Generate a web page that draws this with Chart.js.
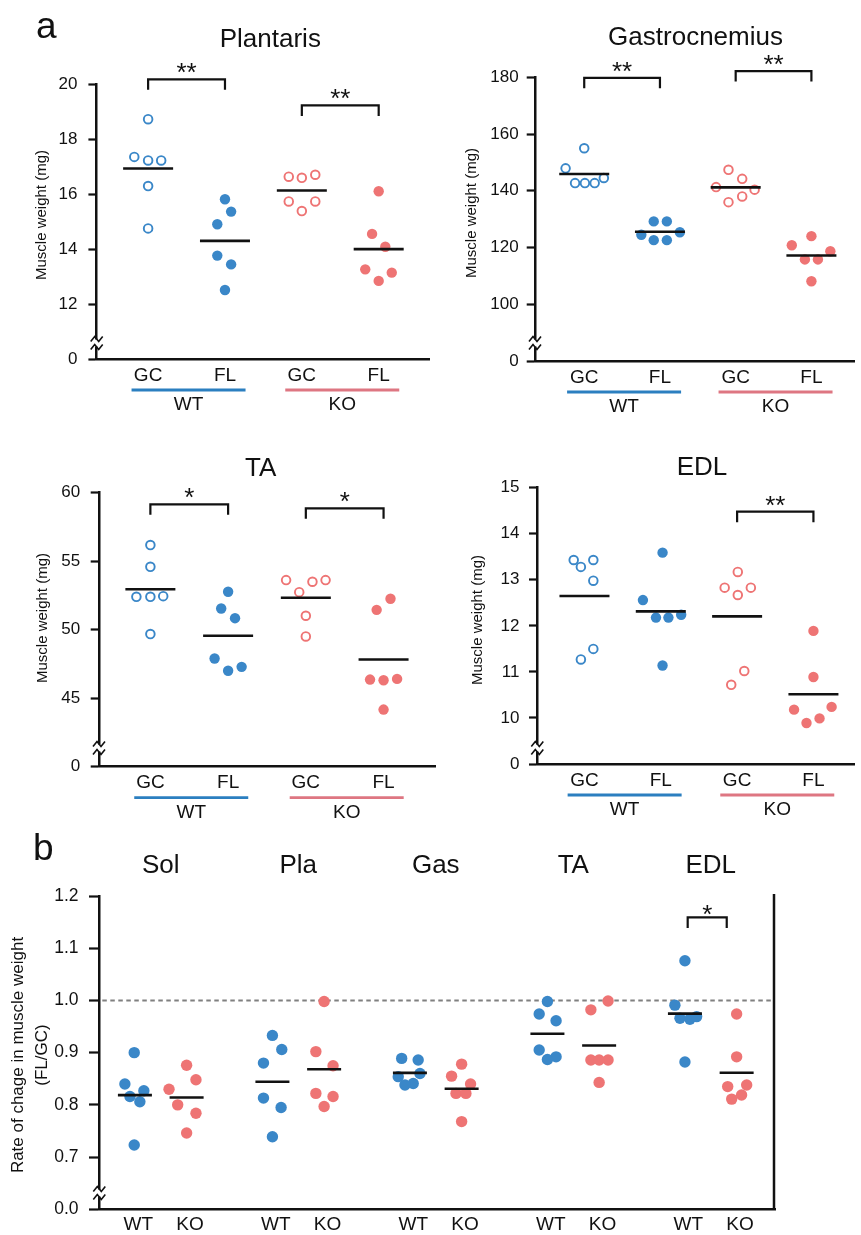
<!DOCTYPE html>
<html>
<head>
<meta charset="utf-8">
<script src="https://cdn.jsdelivr.net/npm/chart.js@4.4.1/dist/chart.umd.min.js"></script>
<style>
html,body{margin:0;padding:0;background:#fff;}
body{position:relative;width:861px;height:1235px;overflow:hidden;}
.pn{position:absolute;}
canvas{display:block;}
</style>
</head>
<body>
<script>
// ================= DATA =================
const catLabels = ['GC', 'FL', 'GC', 'FL'];
const genotypes = ['WT', 'KO'];
const ratioMuscles = ['Sol', 'Pla', 'Gas', 'TA', 'EDL'];

// Plantaris (mg)
const plaGC_WT = [18.72, 17.35, 17.22, 17.22, 16.29, 14.75];
const plaFL_WT = [15.81, 15.36, 14.90, 13.76, 13.44, 12.51];
const plaGC_KO = [16.63, 16.59, 16.70, 15.73, 15.73, 15.38];
const plaFL_KO = [16.10, 14.55, 14.08, 13.26, 13.14, 12.84];
const plaTicks = [12, 14, 16, 18, 20];

// Gastrocnemius (mg)
const gasGC_WT = [155.0, 147.9, 142.7, 142.7, 142.7, 144.5];
const gasFL_WT = [129.2, 129.2, 124.5, 125.4, 122.6, 122.6];
const gasGC_KO = [147.4, 144.2, 141.3, 140.4, 138.0, 136.0];
const gasFL_KO = [124.0, 120.8, 118.7, 115.8, 115.8, 108.1];
const gasTicks = [100, 120, 140, 160, 180];

// TA (mg)
const taGC_WT = [56.18, 54.59, 52.40, 52.40, 52.45, 49.68];
const taFL_WT = [52.77, 51.55, 50.84, 47.90, 47.29, 47.00];
const taGC_KO = [53.62, 53.50, 53.62, 52.74, 51.02, 49.51];
const taFL_KO = [52.26, 51.45, 46.36, 46.31, 46.41, 44.17];
const taTicks = [45, 50, 55, 60];

// EDL (mg)
const edlGC_WT = [13.43, 13.43, 13.28, 12.98, 11.50, 11.27];
const edlFL_WT = [13.59, 12.56, 12.18, 12.18, 12.24, 11.14];
const edlGC_KO = [13.17, 12.83, 12.83, 12.67, 11.02, 10.72];
const edlFL_KO = [11.89, 10.89, 10.18, 10.24, 9.99, 9.89];
const edlTicks = [10, 11, 12, 13, 14, 15];

// b: rate of change FL/GC
const rSolWT = [0.900, 0.840, 0.827, 0.816, 0.806, 0.723];
const rSolKO = [0.876, 0.848, 0.830, 0.800, 0.784, 0.746];
const rPlaWT = [0.933, 0.906, 0.880, 0.813, 0.795, 0.739];
const rPlaKO = [0.998, 0.902, 0.875, 0.822, 0.816, 0.797];
const rGasWT = [0.889, 0.886, 0.860, 0.854, 0.841, 0.838];
const rGasKO = [0.878, 0.855, 0.840, 0.822, 0.822, 0.768];
const rTaWT  = [0.998, 0.974, 0.961, 0.905, 0.892, 0.887];
const rTaKO  = [0.999, 0.982, 0.886, 0.886, 0.886, 0.843];
const rEdlWT = [1.076, 0.991, 0.966, 0.964, 0.969, 0.882];
const rEdlKO = [0.974, 0.892, 0.835, 0.838, 0.819, 0.811];
const ratioTicks = [0.7, 0.8, 0.9, 1.0, 1.1, 1.2];

// horizontal jitter (in category units)
const plaJit = [[0,-0.18,0,0.17,0,0],[0,0.08,-0.1,-0.1,0.08,0],[-0.17,0,0.175,-0.17,0.175,0],[0,-0.086,0.086,-0.175,0.17,0]];
const gasJit = [[0,-0.246,-0.121,0.009,0.138,0.259],[-0.082,0.091,-0.246,0.263,-0.082,0.091],[-0.095,0.086,-0.259,0.25,0.086,-0.095],[0,-0.259,0.25,-0.086,0.086,0]];
const taJit  = [[0,0,-0.18,0,0.165,0],[0,-0.089,0.089,-0.174,0.174,0],[-0.254,0.085,0.254,-0.085,0,0],[0.089,-0.089,-0.174,0,0.174,0]];
const edlJit = [[-0.141,0.116,-0.047,0.116,0.116,-0.047],[0.023,-0.234,-0.063,0.1,0.267,0.023],[0.009,-0.163,0.18,0.009,0.094,-0.077],[0,0,-0.254,0.238,0.08,-0.091]];
const ratioJit = [
  [-0.005,-0.073,0.065,-0.036,0.036,-0.005],[0,0.068,-0.128,-0.065,0.068,0],
  [0,0.068,-0.065,-0.065,0.063,0],[0,-0.06,0.065,-0.06,0.065,0],
  [-0.06,0.06,0.073,-0.085,0.024,-0.036],[0,-0.073,0.065,-0.041,0.031,0],
  [0,-0.06,0.063,-0.06,0.063,0],[0.065,-0.06,-0.06,0,0.065,0],
  [0,-0.073,-0.036,0.036,0.085,0],[0,0,-0.065,0.073,0.036,-0.036]
];

// significance brackets [from, to, level, mark]
const plaBrackets = [[0, 1, 20.17, '**'], [2, 3, 19.22, '**']];
const gasBrackets = [[0, 1, 179.8, '**'], [2, 3, 182.2, '**']];
const taBrackets  = [[0, 1, 59.15, '*'], [2, 3, 58.86, '*']];
const edlBrackets = [[2, 3, 14.48, '**']];
const ratioBrackets = [[3.832, 4.116, 1.159, '*']];

// ================= DRAWING =================
const FONT = '"Liberation Sans", Arial, Helvetica, sans-serif';
Chart.defaults.font.family = FONT;
Chart.defaults.color = '#111';
const BLUE = '#3a87c8', RED = '#ee7474', BLUE_LINE = '#2b7fc0', RED_LINE = '#de7682', INK = '#111';

function mean(a) { return a.reduce((s, v) => s + v, 0) / a.length; }

function panel(p) {
  const div = document.createElement('div');
  div.className = 'pn';
  div.style.left = p.box.x + 'px'; div.style.top = p.box.y + 'px';
  const cv = document.createElement('canvas');
  cv.width = p.box.w; cv.height = p.box.h;
  cv.style.width = p.box.w + 'px'; cv.style.height = p.box.h + 'px';
  div.appendChild(cv); document.body.appendChild(div);
  const ox = p.box.x, oy = p.box.y;
  const L = p.area.l - ox, T = p.area.t - oy, R = p.area.r - ox, B = p.area.b - oy;
  const XH = p.xAxisH;

  const datasets = p.groups.map(g => ({
    data: g.values.map((v, i) => ({ x: g.pos + g.jitter[i], y: v })),
    showLine: false,
    pointStyle: 'circle',
    pointRadius: g.open ? p.openR : p.dotR,
    pointHoverRadius: g.open ? p.openR : p.dotR,
    pointBorderWidth: g.open ? p.openW : 0,
    pointHoverBorderWidth: g.open ? p.openW : 0,
    pointBorderColor: g.color,
    pointBackgroundColor: g.open ? '#ffffff' : g.color,
    clip: false
  }));

  const overlay = {
    id: 'ov_' + p.id,
    beforeDatasetsDraw(chart) {
      if (p.refLine == null) return;
      const ctx = chart.ctx, ca = chart.chartArea, y = chart.scales.y.getPixelForValue(p.refLine);
      ctx.save();
      ctx.strokeStyle = '#808080'; ctx.lineWidth = 2; ctx.setLineDash([4.5, 3.5]);
      ctx.beginPath(); ctx.moveTo(ca.left + 3, y); ctx.lineTo(ca.right - 2, y); ctx.stroke();
      ctx.restore();
    },
    afterDatasetsDraw(chart) {
      const ctx = chart.ctx, xs = chart.scales.x, ys = chart.scales.y;
      ctx.save();
      ctx.strokeStyle = INK; ctx.lineWidth = 2.6;
      p.groups.forEach(g => {
        const cx = xs.getPixelForValue(g.pos), cy = ys.getPixelForValue(mean(g.values));
        ctx.beginPath(); ctx.moveTo(cx - p.meanHalf, cy); ctx.lineTo(cx + p.meanHalf, cy); ctx.stroke();
      });
      ctx.restore();
    },
    afterDraw(chart) {
      const ctx = chart.ctx, xs = chart.scales.x, ys = chart.scales.y, ca = chart.chartArea;
      ctx.save();
      // right frame line
      if (p.rightTop != null) {
        ctx.strokeStyle = INK; ctx.lineWidth = 2.5;
        ctx.beginPath(); ctx.moveTo(ca.right - 1, p.rightTop - oy); ctx.lineTo(ca.right - 1, ca.bottom); ctx.stroke();
      }
      // axis break
      const bx = ca.left, by = p.breakY - oy;
      ctx.fillStyle = '#fff'; ctx.fillRect(bx - 3, by - 3.5, 6, 7);
      ctx.strokeStyle = INK; ctx.lineWidth = 1.6;
      [-4, 4].forEach(d => {
        ctx.beginPath();
        ctx.moveTo(bx - 6, by + d + 2.5); ctx.lineTo(bx - 2, by + d - 2.5);
        ctx.lineTo(bx + 2, by + d + 2.5); ctx.lineTo(bx + 6, by + d - 2.5);
        ctx.stroke();
      });
      // brackets
      ctx.strokeStyle = INK; ctx.fillStyle = INK; ctx.lineWidth = 2.2;
      p.brackets.forEach(([a, b, lvl, mark]) => {
        const x1 = xs.getPixelForValue(a), x2 = xs.getPixelForValue(b), y = ys.getPixelForValue(lvl);
        ctx.beginPath();
        ctx.moveTo(x1, y + p.legLen); ctx.lineTo(x1, y); ctx.lineTo(x2, y); ctx.lineTo(x2, y + p.legLen);
        ctx.stroke();
        ctx.font = p.starSize + 'px ' + FONT; ctx.textAlign = 'center'; ctx.textBaseline = 'alphabetic';
        ctx.fillText(mark, (x1 + x2) / 2, y - p.starGap + 0.553 * p.starSize);
      });
      // panel titles
      ctx.font = '26px ' + FONT; ctx.textAlign = 'center'; ctx.textBaseline = 'alphabetic'; ctx.fillStyle = INK;
      p.titles.forEach(t => ctx.fillText(t.text, xs.getPixelForValue(t.x), t.base - oy));
      // y axis title
      ctx.font = p.yTitleSize + 'px ' + FONT; ctx.textBaseline = 'middle'; ctx.textAlign = 'center';
      p.yTitle.forEach((line, i) => {
        ctx.save(); ctx.translate(p.yTitleX[i] - ox, p.yTitleY - oy); ctx.rotate(-Math.PI / 2);
        ctx.fillText(line, 0, 0); ctx.restore();
      });
      // genotype group labels with underline
      (p.genoGroups || []).forEach(g => {
        const cx = xs.getPixelForValue(g.center) + 2, yb = ca.bottom;
        ctx.strokeStyle = g.line; ctx.lineWidth = 2.8;
        ctx.beginPath(); ctx.moveTo(cx - 57, yb + 31); ctx.lineTo(cx + 57, yb + 31); ctx.stroke();
        ctx.font = '19px ' + FONT; ctx.textBaseline = 'middle'; ctx.textAlign = 'center'; ctx.fillStyle = INK;
        ctx.fillText(g.label, cx, yb + 46);
      });
      // panel letter
      if (p.letter) {
        ctx.font = '37px ' + FONT; ctx.textAlign = 'left'; ctx.textBaseline = 'alphabetic'; ctx.fillStyle = INK;
        ctx.fillText(p.letter.text, p.letter.x - ox, p.letter.y - oy);
      }
      ctx.restore();
    }
  };

  new Chart(cv, {
    type: 'scatter',
    data: { datasets },
    plugins: [overlay],
    options: {
      responsive: false, animation: false, devicePixelRatio: 1, events: [],
      layout: { padding: { left: 0, top: T, right: p.box.w - R, bottom: p.box.h - B - XH } },
      plugins: { legend: { display: false }, tooltip: { enabled: false }, title: { display: false } },
      scales: {
        x: {
          type: 'linear', min: p.xRange[0], max: p.xRange[1],
          afterFit: s => { s.height = XH; },
          afterBuildTicks: s => { s.ticks = p.xTicks.map(v => ({ value: v })); },
          ticks: { autoSkip: false, maxRotation: 0, minRotation: 0, padding: p.xPad,
                   font: { size: 19 }, color: INK, callback: (v, i) => p.xTickLabels[i] },
          grid: { display: false, drawTicks: false },
          border: { display: true, color: INK, width: 2.5 }
        },
        y: {
          type: 'linear', min: p.yMin, max: p.yMax,
          afterFit: s => { s.width = L; },
          afterBuildTicks: s => { s.ticks = [p.yMin].concat(p.yTicks).map(v => ({ value: v })); },
          ticks: { autoSkip: false, padding: p.tickPad, font: { size: p.tickSize }, color: INK,
                   callback: v => (v === p.yMin ? p.breakLabel : p.fmt(v)) },
          grid: { display: true, drawOnChartArea: false, drawTicks: true, tickLength: p.tickLen,
                  tickWidth: 2.2, tickColor: INK },
          border: { display: true, color: INK, width: 2.5 }
        }
      }
    }
  });
}

function weightGroups(a, b, c, d, jit) {
  return [
    { pos: 0, values: a, jitter: jit[0], color: BLUE, open: true },
    { pos: 1, values: b, jitter: jit[1], color: BLUE, open: false },
    { pos: 2, values: c, jitter: jit[2], color: RED, open: true },
    { pos: 3, values: d, jitter: jit[3], color: RED, open: false }
  ];
}
const genoGroupsA = [
  { center: 0.5, label: genotypes[0], line: BLUE_LINE },
  { center: 2.5, label: genotypes[1], line: RED_LINE }
];
const common = {
  xAxisH: 30, xTicks: [0, 1, 2, 3], xTickLabels: catLabels, xPad: 5,
  openR: 4.3, openW: 1.9, dotR: 5.2, meanHalf: 25, legLen: 10.5, starSize: 26, starGap: 12.5,
  tickSize: 17, tickLen: 8.3, breakLabel: '0', fmt: v => String(v),
  yTitle: ['Muscle weight (mg)'], yTitleSize: 15, genoGroups: genoGroupsA
};

panel(Object.assign({}, common, {
  id: 'pla', box: { x: 0, y: 0, w: 436, h: 420 }, area: { l: 96.7, t: 84, r: 433, b: 359 },
  xRange: [-0.669, 3.665], yMin: 10, yMax: 20, yTicks: plaTicks, tickPad: 11,
  groups: weightGroups(plaGC_WT, plaFL_WT, plaGC_KO, plaFL_KO, plaJit),
  brackets: plaBrackets, titles: [{ text: 'Plantaris', x: 1.59, base: 46.5 }],
  yTitleX: [42], yTitleY: 215, breakY: 343, letter: { text: 'a', x: 36, y: 38 }
}));

panel(Object.assign({}, common, {
  id: 'gas', box: { x: 430, y: 0, w: 431, h: 420 }, area: { l: 535, t: 77.3, r: 861, b: 361 },
  xRange: [-0.650, 3.573], yMin: 80, yMax: 180, yTicks: gasTicks, tickPad: 8,
  groups: weightGroups(gasGC_WT, gasFL_WT, gasGC_KO, gasFL_KO, gasJit),
  brackets: gasBrackets, titles: [{ text: 'Gastrocnemius', x: 1.47, base: 45 }],
  yTitleX: [472], yTitleY: 213, breakY: 343
}));

panel(Object.assign({}, common, {
  id: 'ta', box: { x: 0, y: 420, w: 442, h: 410 }, area: { l: 99, t: 492.7, r: 440, b: 766.7 },
  xRange: [-0.661, 3.672], yMin: 40, yMax: 60, yTicks: taTicks, tickPad: 10.5,
  groups: weightGroups(taGC_WT, taFL_WT, taGC_KO, taFL_KO, taJit),
  brackets: taBrackets, titles: [{ text: 'TA', x: 1.42, base: 476 }],
  yTitleX: [43], yTitleY: 618, breakY: 748
}));

panel(Object.assign({}, common, {
  id: 'edl', box: { x: 430, y: 420, w: 431, h: 410 }, area: { l: 537.3, t: 487.7, r: 861, b: 764 },
  xRange: [-0.618, 3.542], yMin: 9, yMax: 15, yTicks: edlTicks, tickPad: 9.5,
  groups: weightGroups(edlGC_WT, edlFL_WT, edlGC_KO, edlFL_KO, edlJit),
  brackets: edlBrackets, titles: [{ text: 'EDL', x: 1.54, base: 475 }],
  yTitleX: [477.7], yTitleY: 620, breakY: 748
}));

// panel b
const ratioWT = [rSolWT, rPlaWT, rGasWT, rTaWT, rEdlWT];
const ratioKO = [rSolKO, rPlaKO, rGasKO, rTaKO, rEdlKO];
const half = 0.188;
const ratioGroups = [];
const ratioXTicks = [], ratioXLabels = [];
ratioMuscles.forEach((m, i) => {
  ratioGroups.push({ pos: i - half, values: ratioWT[i], jitter: ratioJit[2 * i], color: BLUE, open: false });
  ratioGroups.push({ pos: i + half, values: ratioKO[i], jitter: ratioJit[2 * i + 1], color: RED, open: false });
  ratioXTicks.push(i - half + 0.025, i + half + 0.025);
  ratioXLabels.push(genotypes[0], genotypes[1]);
});

panel({
  id: 'ratio', box: { x: 0, y: 830, w: 861, h: 405 }, area: { l: 99.3, t: 896, r: 775, b: 1209.3 },
  xAxisH: 25, xTicks: ratioXTicks, xTickLabels: ratioXLabels, xPad: 4,
  xRange: [-0.447, 4.467], yMin: 0.6, yMax: 1.2, yTicks: ratioTicks,
  tickSize: 17.5, tickLen: 10.3, tickPad: 10.5, breakLabel: '0.0', fmt: v => v.toFixed(1),
  openR: 4, openW: 2, dotR: 5.7, meanHalf: 17, legLen: 10.5, starSize: 26, starGap: 9,
  groups: ratioGroups, brackets: ratioBrackets,
  titles: ratioMuscles.map((m, i) => ({ text: m, x: i, base: 873 })),
  yTitle: ['Rate of chage in muscle weight', '(FL/GC)'], yTitleSize: 17, yTitleX: [18.3, 42.7], yTitleY: 1055,
  breakY: 1193, refLine: 1.0, rightTop: 894, letter: { text: 'b', x: 33, y: 860 }
});
</script>
</body>
</html>
